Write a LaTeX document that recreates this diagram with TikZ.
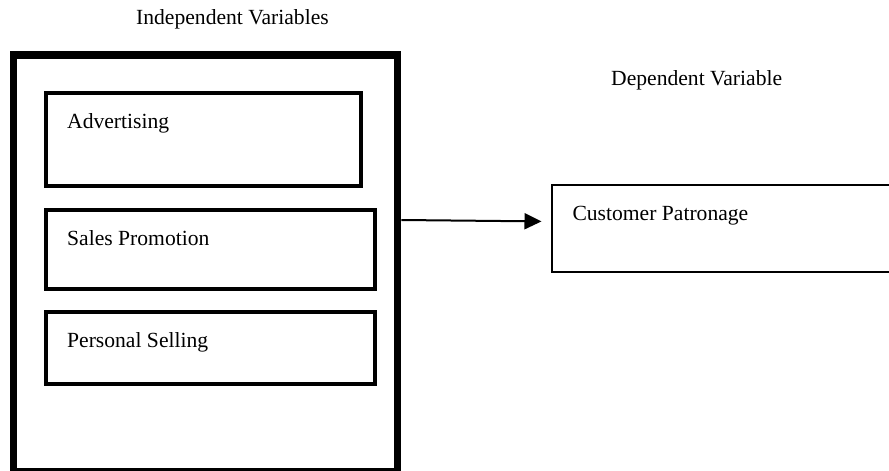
\documentclass[tikz,border=0pt]{standalone}
\usepackage{fontspec}
\setmainfont{Liberation Serif}
\usetikzlibrary{arrows.meta}
\begin{document}
\begin{tikzpicture}[x=1pt,y=-1pt,
  every node/.style={font=\fontsize{21.6}{26}\selectfont},
  frame/.style={draw=black,line width=7.3pt,inner sep=0pt},
  varbox/.style={draw=black,line width=4pt,inner sep=0pt},
  depbox/.style={draw=black,line width=2pt,inner sep=0pt},
  lbl/.style={anchor=base west,inner sep=0pt},
  conn/.style={draw=black,line width=2pt,-{Triangle[length=17pt,width=16pt]}}]
\useasboundingbox (0,0) rectangle (889,471);
\clip (0,0) rectangle (889,471);
% outer frame
\node[frame,minimum width=384.1pt,minimum height=416.3pt] (outer) at (205.75,263.15) {};
% independent variable boxes
\node[varbox,minimum width=315.8pt,minimum height=92.7pt] (adv) at (203.4,139.35) {};
\node[varbox,minimum width=329.2pt,minimum height=79.5pt] (sales) at (210.1,249.25) {};
\node[varbox,minimum width=329.2pt,minimum height=71.7pt] (pers) at (210.1,347.85) {};
% dependent variable box (runs past the right edge)
\node[depbox,minimum width=360pt,minimum height=87pt] (cp) at (731.5,228.5) {};
% texts
\node[lbl] (indep) at (136,24) {Independent Variables};
\node[lbl] (dep) at (611,85) {Dependent Variable};
\node[lbl] (advt) at (67,128.3) {Advertising};
\node[lbl] (salest) at (67,245.7) {Sales Promotion};
\node[lbl] (perst) at (67,347.3) {Personal Selling};
\node[lbl] (cpt) at (572.3,220) {Customer Patronage};
% connector
\draw[conn,shorten >=9pt] (outer.east |- 0,220) -- (cp.west |- 0,221.5);
\end{tikzpicture}
\end{document}
